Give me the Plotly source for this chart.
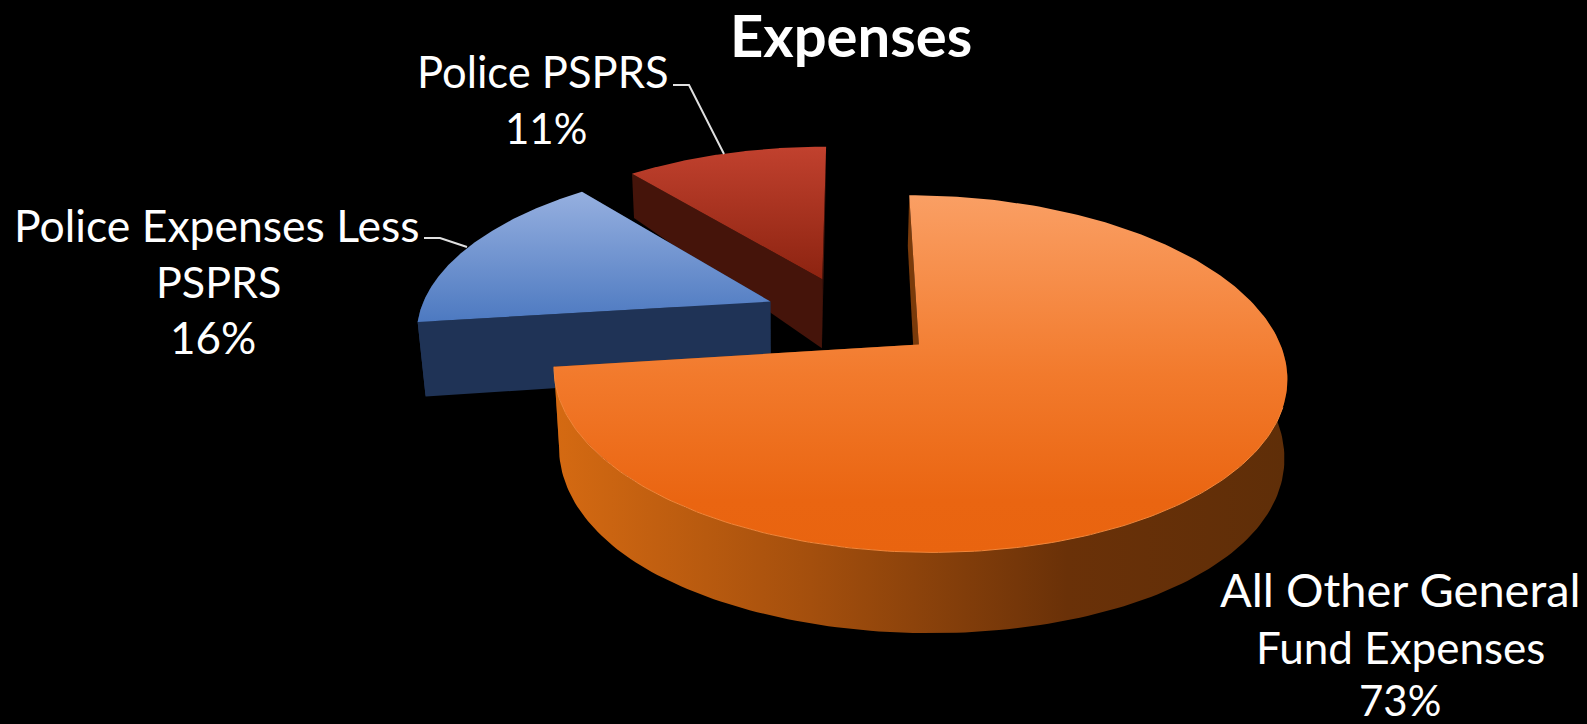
import numpy as np
import plotly.graph_objects as go

# Budget shares, clockwise from twelve o'clock
names = ["All Other General<br>Fund Expenses", "Police Expenses Less<br>PSPRS", "Police PSPRS"]
values = [73, 16, 11]
title_text = "Expenses"

WIDTH, HEIGHT = 1587, 724

# Oblique view of the disc: plane coordinates to canvas position
X0, Y0, SX, SY, PERSP = 851.0, 316.5, 352.0, 164.7, 0.16
EXPLODE = 0.25


def project(u, v, depth=False):
    w = 1 + PERSP * v
    x = X0 + SX * u / w
    y = Y0 - SY * v / w
    if depth:
        # Lower rim: slightly narrower and pushed down, most at the front
        x = x + np.interp(x, [417, 554, 630, 915, 1287], [8, 5, 2, -1.5, -3])
        y = y + (74 - 18.6 * v - 11 * v ** 2)
    return x, y


def direction(deg):
    r = np.radians(deg)
    return np.sin(r), np.cos(r)


def polygon(fig, x, y, stops, kind, start, stop):
    fig.add_trace(go.Scatter(
        x=list(x), y=list(y), mode="lines", fill="toself",
        line=dict(width=0), hoverinfo="skip", showlegend=False,
        fillgradient=dict(type=kind, start=start, stop=stop, colorscale=stops),
    ))


styles = {
    0: dict(top=[[0, "#FA9F64"], [0.5, "#F27A2C"], [0.85, "#EA6511"], [1, "#E9640F"]], ystart=195, ystop=555,
            wall=[[0, "#D56A12"], [0.35, "#A44F0D"], [0.7, "#6A3108"], [1, "#5F2E08"]], flat="#7A3A0A"),
    1: dict(top=[[0, "#95AFDF"], [1, "#4B78C0"]], ystart=193, ystop=325,
            wall=[[0, "#1F3356"], [1, "#1F3356"]], flat="#1F3356"),
    2: dict(top=[[0, "#C1412E"], [1, "#8C2310"]], ystart=147, ystop=280,
            wall=[[0, "#45140A"], [1, "#45140A"]], flat="#45140A"),
}

fractions = np.array(values) / sum(values)
edges = np.concatenate([[0], np.cumsum(fractions)]) * 360
fig = go.Figure()

# Back slices first so the large slice overlaps them
for i in [2, 1, 0]:
    a0, a1 = edges[i], edges[i + 1]
    mid = (a0 + a1) / 2
    du, dv = direction(mid)
    cu, cv = EXPLODE * du, EXPLODE * dv
    st = styles[i]

    # Cut faces
    for a in (a0, a1):
        ou, ov = direction(a)
        pu = np.array([cu, cu + ou])
        pv = np.array([cv, cv + ov])
        tx, ty = project(pu, pv)
        bx, by = project(pu, pv, depth=True)
        xs = np.concatenate([tx, bx[::-1]])
        ys = np.concatenate([ty, by[::-1]])
        polygon(fig, xs, ys, [[0, st["flat"]], [1, st["flat"]]], "horizontal", 0, WIDTH)

    # Rounded outer wall, limited to the part that faces the viewer
    w0, w1 = max(a0, 80), min(a1, 275)
    if w1 > w0:
        th = np.linspace(w0, w1, 160)
        ou, ov = direction(th)
        tx, ty = project(cu + ou, cv + ov)
        bx, by = project(cu + ou, cv + ov, depth=True)
        xs = np.concatenate([tx, bx[::-1]])
        ys = np.concatenate([ty, by[::-1]])
        polygon(fig, xs, ys, st["wall"], "horizontal", xs.min(), xs.max())

    # Top face
    th = np.linspace(a0, a1, 240)
    ou, ov = direction(th)
    tx, ty = project(np.concatenate([[cu], cu + ou]), np.concatenate([[cv], cv + ov]))
    polygon(fig, tx, ty, st["top"], "vertical", st["ystart"], st["ystop"])

    # Thin bevel highlight along the front rim of the large slice
    if i == 0:
        th = np.linspace(110, a1, 160)
        ou, ov = direction(th)
        rx, ry = project(cu + ou, cv + ov)
        fig.add_trace(go.Scatter(x=rx, y=ry, mode="lines", line=dict(color="#F3873A", width=1),
                                 hoverinfo="skip", showlegend=False))

# Leader lines from the two police labels to their slices
leaders = [([673, 689, 724], [85, 85, 154]), ([424, 440, 467], [238, 238, 247])]
for lx, ly in leaders:
    fig.add_trace(go.Scatter(x=lx, y=ly, mode="lines", line=dict(color="#E0E0E0", width=2),
                             hoverinfo="skip", showlegend=False))

FONT = "Lato"
# Per label: line centres, baselines and a size per line
label_layout = [
    dict(cx=[1400, 1400, 1400], base=[605, 662, 714], size=[47, 44, 42]),
    dict(cx=[217, 218, 213], base=[239, 296, 352], size=[44.5, 43, 44]),
    dict(cx=[543, 546], base=[85, 142], size=[43.5, 42]),
]
for name, val, lay in zip(names, values, label_layout):
    lines = name.split("<br>") + [f"{val}%"]
    for line, cx, base, size in zip(lines, lay["cx"], lay["base"], lay["size"]):
        fig.add_annotation(x=cx, y=base - 0.33 * size, xref="x", yref="y",
                           xanchor="center", yanchor="middle", text=line, showarrow=False,
                           font=dict(family=FONT, size=size, color="white"))

fig.add_annotation(x=851, y=34, xref="x", yref="y", xanchor="center", yanchor="middle",
                   text=f"<b>{title_text}</b>", showarrow=False,
                   font=dict(family=FONT, size=58, color="white"))

fig.update_layout(
    width=WIDTH, height=HEIGHT,
    margin=dict(l=0, r=0, t=0, b=0),
    paper_bgcolor="black", plot_bgcolor="black",
    xaxis=dict(range=[0, WIDTH], visible=False, fixedrange=True),
    yaxis=dict(range=[HEIGHT, 0], visible=False, fixedrange=True),
    showlegend=False,
)
fig.write_html("out.html")
